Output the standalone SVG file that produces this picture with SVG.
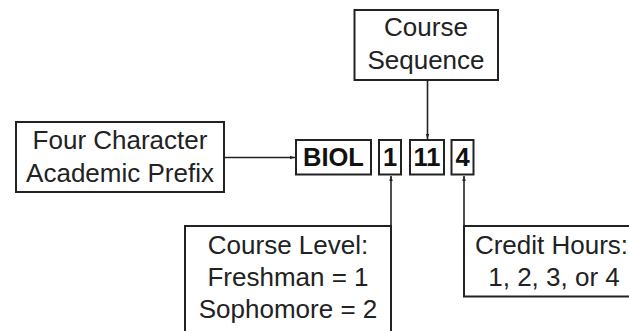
<svg xmlns="http://www.w3.org/2000/svg" width="629" height="331" viewBox="0 0 629 331">
  <defs>
    <style>
      .box { fill: #ffffff; stroke: #222222; stroke-width: 2; }
      .lbl { font-family: "Liberation Sans", Arial, sans-serif; font-size: 26px; fill: #222222; text-anchor: middle; }
      .code { font-family: "Liberation Sans", Arial, sans-serif; font-size: 25.5px; font-weight: bold; fill: #111111; text-anchor: middle; }
      .conn { stroke: #222222; stroke-width: 1.6; fill: none; }
    </style>
    <marker id="arr" viewBox="0 0 10 10" refX="10" refY="5" markerWidth="5" markerHeight="5" orient="auto" markerUnits="userSpaceOnUse">
      <path d="M0,1.5 L10,5 L0,8.5 z" fill="#222222"/>
    </marker>
  </defs>
  <rect width="629" height="331" fill="#ffffff"/>

  <g id="connectors">
    <line class="conn" x1="224" y1="157.5" x2="295" y2="157.5" marker-end="url(#arr)"/>
    <line class="conn" x1="427.5" y1="80" x2="427.5" y2="139" marker-end="url(#arr)"/>
    <line class="conn" x1="391" y1="226" x2="391" y2="176" marker-end="url(#arr)"/>
    <line class="conn" x1="464" y1="226" x2="464" y2="176" marker-end="url(#arr)"/>
  </g>

  <g id="node-prefix">
    <rect class="box" x="16" y="122" width="208" height="70"/>
    <text class="lbl" x="120" y="149">Four Character</text>
    <text class="lbl" x="120" y="181.5">Academic Prefix</text>
  </g>

  <g id="node-sequence">
    <rect class="box" x="354.5" y="10" width="143.5" height="70"/>
    <text class="lbl" x="426" y="36">Course</text>
    <text class="lbl" x="426" y="68.5">Sequence</text>
  </g>

  <g id="node-biol">
    <rect class="box" x="296" y="140" width="75" height="34.5"/>
    <text class="code" x="333.5" y="165.5">BIOL</text>
  </g>

  <g id="node-level-digit">
    <rect class="box" x="379" y="140" width="22" height="34.5"/>
    <text class="code" x="390" y="165.5">1</text>
  </g>

  <g id="node-sequence-digits">
    <rect class="box" x="410" y="140" width="34" height="34.5"/>
    <text class="code" x="427" y="165.5">11</text>
  </g>

  <g id="node-hours-digit">
    <rect class="box" x="451.5" y="140" width="22" height="34.5"/>
    <text class="code" x="462.5" y="165.5">4</text>
  </g>

  <g id="node-level">
    <rect class="box" x="185" y="226" width="206" height="120"/>
    <text class="lbl" x="288" y="254">Course Level:</text>
    <text class="lbl" x="288" y="286">Freshman = 1</text>
    <text class="lbl" x="288" y="318">Sophomore = 2</text>
  </g>

  <g id="node-hours">
    <rect class="box" x="464" y="226" width="182" height="70.5"/>
    <text class="lbl" x="551.5" y="254">Credit Hours:</text>
    <text class="lbl" x="554" y="286">1, 2, 3, or 4</text>
  </g>
</svg>
